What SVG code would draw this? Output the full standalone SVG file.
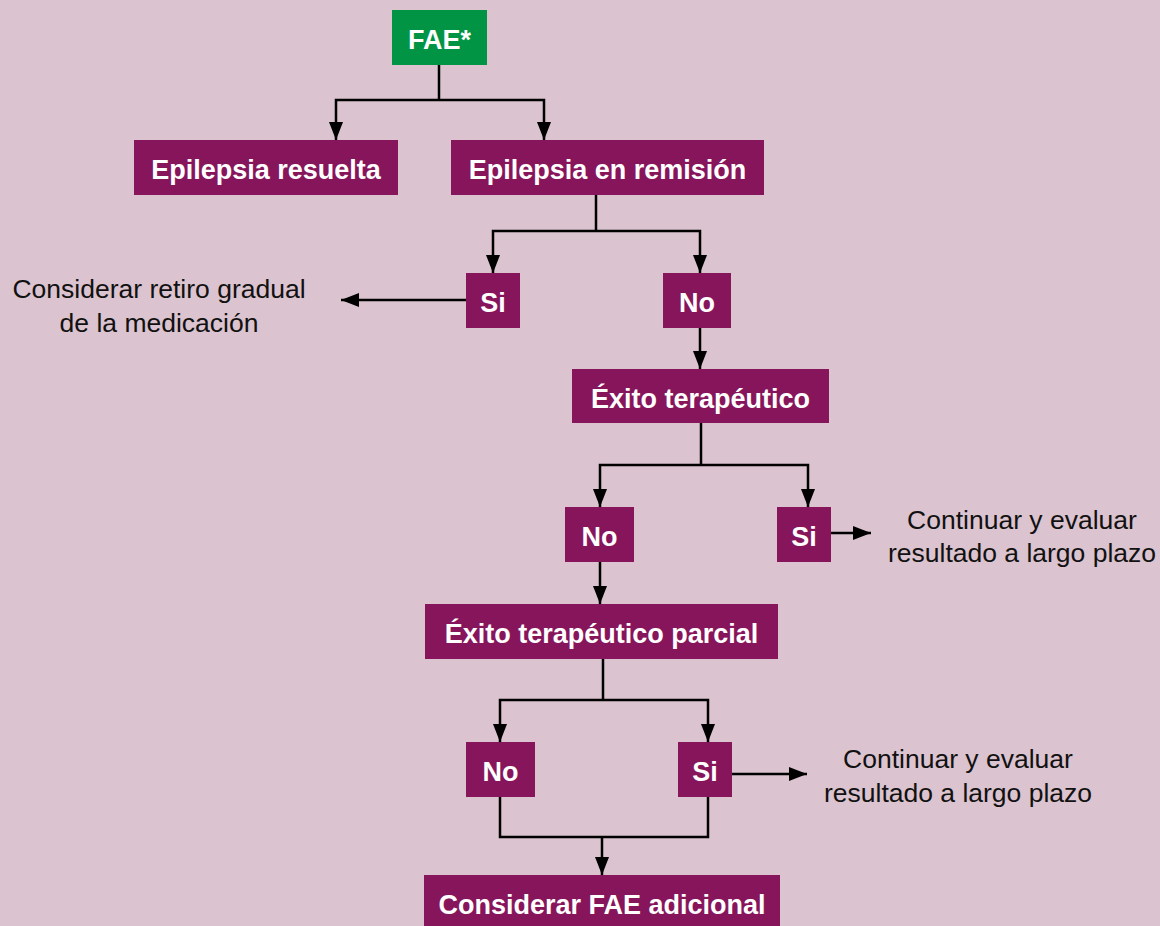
<svg xmlns="http://www.w3.org/2000/svg" width="1160" height="926" viewBox="0 0 1160 926">
  <style>
    .box { fill: #87155b; }
    .start { fill: #009444; }
    .lbl { font-family: "Liberation Sans", Arial, sans-serif; font-weight: bold; font-size: 27px; fill: #ffffff; text-anchor: middle; }
    .note { font-family: "Liberation Sans", Arial, sans-serif; font-size: 26.5px; fill: #111111; text-anchor: middle; }
    .wire { fill: none; stroke: #000000; stroke-width: 2.5; }
  </style>
  <defs>
    <marker id="arrow" markerUnits="userSpaceOnUse" viewBox="0 0 18 14" refX="18" refY="7" markerWidth="18" markerHeight="14" orient="auto">
      <path d="M0,0 L18,7 L0,14 Z" fill="#000000"/>
    </marker>
  </defs>

  <rect width="1160" height="926" fill="#dbc3cf"/>

  <g id="connectors">
    <path class="wire" d="M439,65 V100"/>
    <path class="wire" d="M439,100 H336 V140" marker-end="url(#arrow)"/>
    <path class="wire" d="M439,100 H544 V140" marker-end="url(#arrow)"/>

    <path class="wire" d="M596,195 V231"/>
    <path class="wire" d="M596,231 H493 V273" marker-end="url(#arrow)"/>
    <path class="wire" d="M596,231 H700 V273" marker-end="url(#arrow)"/>

    <path class="wire" d="M466,300 H341" marker-end="url(#arrow)"/>
    <path class="wire" d="M700,328 V369" marker-end="url(#arrow)"/>

    <path class="wire" d="M701,423 V465"/>
    <path class="wire" d="M701,465 H600 V507" marker-end="url(#arrow)"/>
    <path class="wire" d="M701,465 H808 V507" marker-end="url(#arrow)"/>

    <path class="wire" d="M831,533 H871" marker-end="url(#arrow)"/>
    <path class="wire" d="M600,562 V604" marker-end="url(#arrow)"/>

    <path class="wire" d="M603,659 V700"/>
    <path class="wire" d="M603,700 H500 V742" marker-end="url(#arrow)"/>
    <path class="wire" d="M603,700 H708 V742" marker-end="url(#arrow)"/>

    <path class="wire" d="M732,774 H807" marker-end="url(#arrow)"/>

    <path class="wire" d="M500,797 V837 H708 V797"/>
    <path class="wire" d="M602,837 V875" marker-end="url(#arrow)"/>
  </g>

  <g id="fae">
    <rect class="start" x="392" y="10" width="95" height="55"/>
    <text class="lbl" x="439.5" y="49">FAE*</text>
  </g>
  <g id="epilepsia-resuelta">
    <rect class="box" x="134" y="140" width="264" height="55"/>
    <text class="lbl" x="266" y="179">Epilepsia resuelta</text>
  </g>
  <g id="epilepsia-remision">
    <rect class="box" x="451" y="140" width="313" height="55"/>
    <text class="lbl" x="607.5" y="179">Epilepsia en remisión</text>
  </g>
  <g id="remision-si">
    <rect class="box" x="466" y="273" width="54" height="55"/>
    <text class="lbl" x="493" y="312">Si</text>
  </g>
  <g id="remision-no">
    <rect class="box" x="663" y="273" width="68" height="55"/>
    <text class="lbl" x="697" y="312">No</text>
  </g>
  <g id="retiro">
    <text class="note" x="159" y="298">Considerar retiro gradual</text>
    <text class="note" x="159" y="332">de la medicación</text>
  </g>
  <g id="exito">
    <rect class="box" x="572" y="369" width="257" height="54"/>
    <text class="lbl" x="700.5" y="408">Éxito terapéutico</text>
  </g>
  <g id="exito-no">
    <rect class="box" x="565" y="507" width="69" height="55"/>
    <text class="lbl" x="599.5" y="546">No</text>
  </g>
  <g id="exito-si">
    <rect class="box" x="777" y="507" width="54" height="55"/>
    <text class="lbl" x="804" y="546">Si</text>
  </g>
  <g id="continuar-1">
    <text class="note" x="1022" y="529">Continuar y evaluar</text>
    <text class="note" x="1022" y="562">resultado a largo plazo</text>
  </g>
  <g id="exito-parcial">
    <rect class="box" x="425" y="604" width="353" height="55"/>
    <text class="lbl" x="601.5" y="643">Éxito terapéutico parcial</text>
  </g>
  <g id="parcial-no">
    <rect class="box" x="466" y="742" width="69" height="55"/>
    <text class="lbl" x="500.5" y="781">No</text>
  </g>
  <g id="parcial-si">
    <rect class="box" x="678" y="742" width="54" height="55"/>
    <text class="lbl" x="705" y="781">Si</text>
  </g>
  <g id="continuar-2">
    <text class="note" x="958" y="768">Continuar y evaluar</text>
    <text class="note" x="958" y="802">resultado a largo plazo</text>
  </g>
  <g id="fae-adicional">
    <rect class="box" x="424" y="875" width="356" height="55"/>
    <text class="lbl" x="602" y="914">Considerar FAE adicional</text>
  </g>
</svg>
